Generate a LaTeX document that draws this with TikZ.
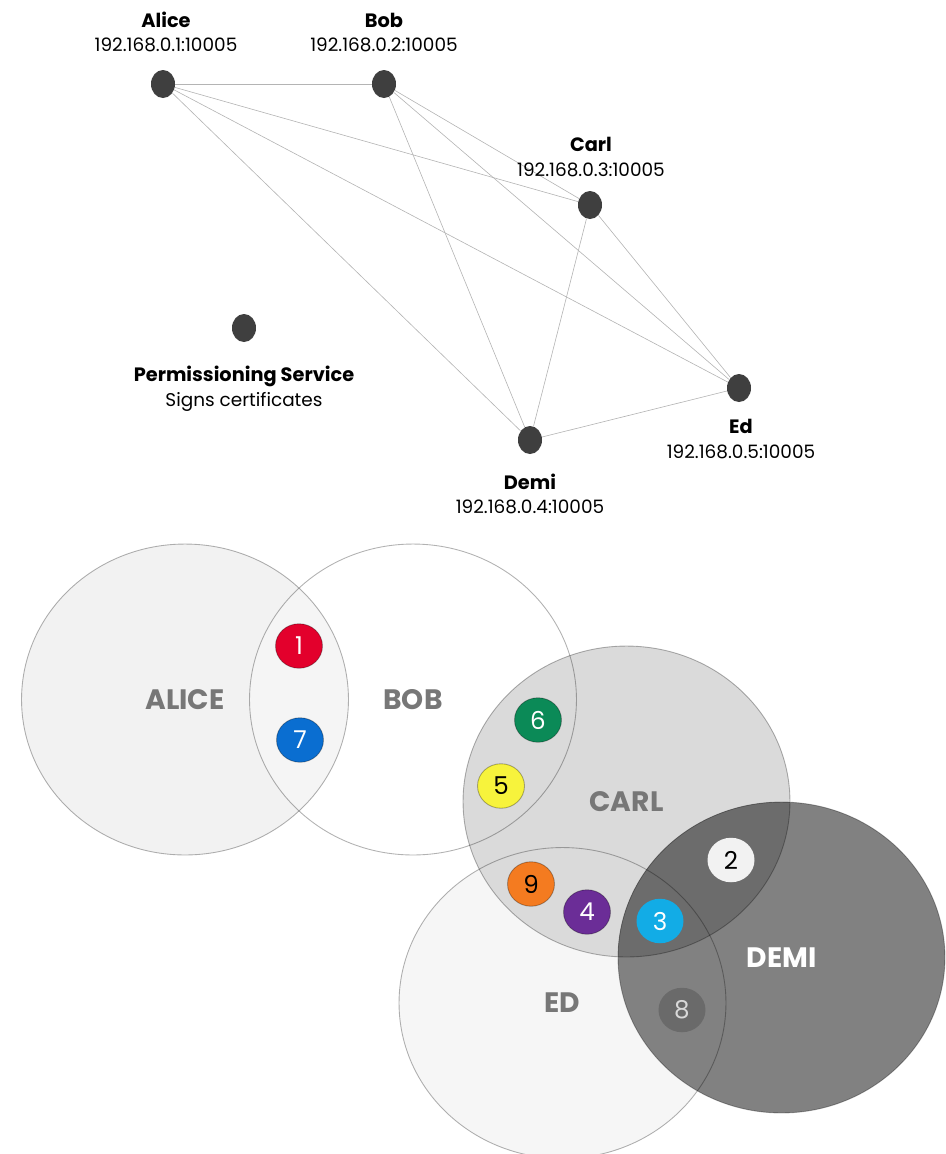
\documentclass[tikz,border=0pt]{standalone}
\usepackage{fontspec}
\setmainfont{Poppins}
\usetikzlibrary{shapes.geometric}

\definecolor{dotgray}{HTML}{3F3F3F}
\definecolor{linkgray}{HTML}{B4B4B4}
\definecolor{alicefill}{HTML}{F2F2F2}
\definecolor{edfill}{HTML}{F6F6F6}
\definecolor{carlfill}{HTML}{DADADA}
\definecolor{demifill}{HTML}{818181}
\definecolor{overlap}{HTML}{6C6C6C}
\definecolor{setgray}{HTML}{777777}
\definecolor{one}{HTML}{E3002C}
\definecolor{two}{HTML}{F2F2F2}
\definecolor{three}{HTML}{12ACE6}
\definecolor{four}{HTML}{6B2D97}
\definecolor{five}{HTML}{F7F33C}
\definecolor{six}{HTML}{0B8A57}
\definecolor{seven}{HTML}{0A6ED1}
\definecolor{eight}{HTML}{6A6A6A}
\definecolor{nine}{HTML}{F47B20}

\begin{document}
\begin{tikzpicture}[x=0.02cm, y=-0.02cm,
	peer/.style={ellipse, fill=dotgray, minimum width=0.48cm, minimum height=0.56cm, inner sep=0pt},
	link/.style={draw=linkgray, line width=0.35pt},
	who/.style={font=\fontsize{11}{13}\selectfont\bfseries},
	addr/.style={font=\fontsize{10.5}{13}\selectfont},
	setname/.style={font=\fontsize{16}{18}\selectfont\bfseries, text=setgray},
	rim/.style={draw=black, draw opacity=0.3, line width=0.5pt},
	badge/.style={ellipse, minimum width=0.94cm, minimum height=0.89cm, inner sep=0pt,
		draw=black, draw opacity=0.3, line width=0.5pt, font=\fontsize{14}{14}\selectfont}
]
\useasboundingbox (0,0) rectangle (946,1154);

% Network of peers
\node[peer] (alice) at (163, 84)  {};
\node[peer] (bob)   at (384, 84)  {};
\node[peer] (carl)  at (590, 205) {};
\node[peer] (perm)  at (244, 328) {};
\node[peer] (ed)    at (739, 388) {};
\node[peer] (demi)  at (530, 440) {};

\foreach \a/\b in {alice/bob, alice/carl, alice/ed, alice/demi,
	bob/carl, bob/ed, bob/demi, carl/ed, carl/demi, demi/ed}
	\draw[link] (\a) -- (\b);

% Peer labels
\node[who]  (alice-name) at (166, 20)  {Alice};
\node[addr] (alice-addr) at (166, 45)  {192.168.0.1:10005};
\node[who]  (bob-name)   at (384, 20)  {Bob};
\node[addr] (bob-addr)   at (384, 45)  {192.168.0.2:10005};
\node[who]  (carl-name)  at (591, 144) {Carl};
\node[addr] (carl-addr)  at (591, 170) {192.168.0.3:10005};
\node[who]  (perm-name)  at (244, 376) {Permissioning Service};
\node[addr] (perm-addr)  at (244, 402) {Signs certificates};
\node[who]  (ed-name)    at (741, 426) {Ed};
\node[addr] (ed-addr)    at (741, 452) {192.168.0.5:10005};
\node[who]  (demi-name)  at (530, 482) {Demi};
\node[addr] (demi-addr)  at (530, 507) {192.168.0.4:10005};

% Venn sets
\def\rx{3.27cm}
\def\ry{3.11cm}
\coordinate (alice-set) at (185, 699.5);
\coordinate (bob-set)   at (413, 699.5);
\coordinate (carl-set)  at (626.5, 801.5);
\coordinate (ed-set)    at (562.5, 1003);
\coordinate (demi-set)  at (781.5, 957.5);

\fill[alicefill] (alice-set) ellipse [x radius=\rx, y radius=\ry];
\fill[white, fill opacity=0.3] (bob-set) ellipse [x radius=\rx, y radius=\ry];
\fill[edfill] (ed-set) ellipse [x radius=\rx, y radius=\ry];
\fill[carlfill] (carl-set) ellipse [x radius=\rx, y radius=\ry];
\fill[demifill] (demi-set) ellipse [x radius=\rx, y radius=\ry];
\begin{scope}
	\clip (demi-set) ellipse [x radius=\rx, y radius=\ry];
	\fill[overlap] (carl-set) ellipse [x radius=\rx, y radius=\ry];
\end{scope}
\foreach \s in {alice, bob, carl, ed, demi}
	\draw[rim] (\s-set) ellipse [x radius=\rx, y radius=\ry];

\node[setname] (alice-lbl) at (alice-set) {ALICE};
\node[setname] (bob-lbl)   at (bob-set)   {BOB};
\node[setname] (carl-lbl)  at (carl-set)  {CARL};
\node[setname] (ed-lbl)    at (ed-set)    {ED};
\node[setname, text=white] (demi-lbl) at (demi-set) {DEMI};

% Numbered badges
\node[badge, fill=one,   text=white]     (b1) at (299, 646) {1};
\node[badge, fill=seven, text=white]     (b7) at (300, 740) {7};
\node[badge, fill=six,   text=white]     (b6) at (538, 720) {6};
\node[badge, fill=five,  text=black]     (b5) at (501, 786) {5};
\node[badge, fill=nine,  text=black]     (b9) at (531, 884) {9};
\node[badge, fill=four,  text=white]     (b4) at (587, 912) {4};
\node[badge, fill=three, text=white, draw=none] (b3) at (660, 921) {3};
\node[badge, fill=two,   text=black, draw=none] (b2) at (731, 860) {2};
\node[badge, fill=eight, text=black!15, draw=none] (b8) at (682, 1010) {8};

\end{tikzpicture}
\end{document}
